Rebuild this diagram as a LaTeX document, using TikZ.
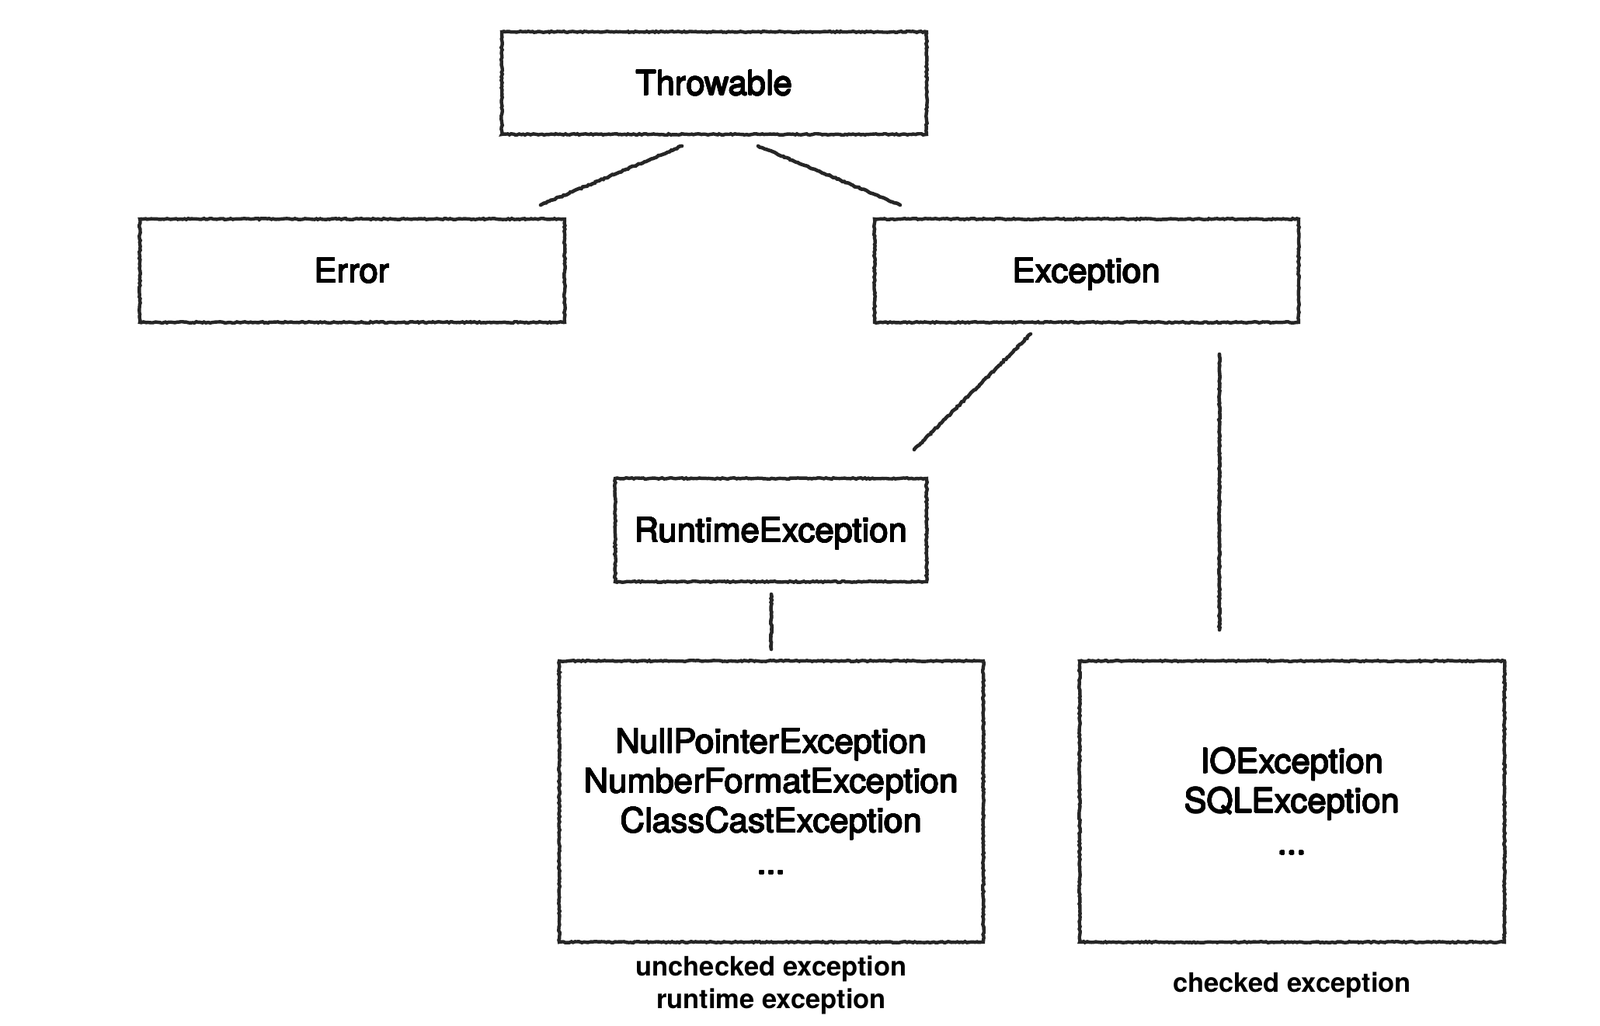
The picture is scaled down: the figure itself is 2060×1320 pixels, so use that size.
\documentclass[tikz,border=0pt]{standalone}
\usepackage{fontspec}
\setmainfont{TeX Gyre Heros}
\newfontfamily\lblfont{TeX Gyre Heros}[UprightFont=*-Bold]
\usepackage[copies]{contour}
\contourlength{0.55pt}
\contournumber{16}
\newcommand\mb[1]{\contour{black}{#1}}
\usetikzlibrary{decorations.pathmorphing}
\tikzset{
  rough/.style={decorate,decoration={random steps,segment length=2.5pt,amplitude=0.8pt}},
  cls/.style={draw=black!85,line width=4.4pt,rough,inner sep=0pt,align=center,
    font=\fontsize{43.5}{51}\selectfont},
  oneline/.style={text height=31pt,text depth=0pt},
  conn/.style={draw=black!85,line width=4.6pt,rough,line cap=round},
  lbl/.style={align=center,font=\lblfont\fontsize{34.5}{42}\selectfont}
}
\begin{document}
\begin{tikzpicture}[x=1pt,y=-1pt]
\useasboundingbox (0,0) rectangle (2060,1320);
\fill[white] (0,0) rectangle (2060,1320);
\node[cls,oneline,minimum width=547pt,minimum height=132pt] (thr) at (919.5,107) {\mb{Throwable}};
\node[cls,oneline,minimum width=547pt,minimum height=133pt] (err) at (453.5,348.5) {\mb{Error}};
\node[cls,oneline,minimum width=546pt,minimum height=133pt] (exc) at (1399,348.5) {\mb{Exception}};
\node[cls,oneline,minimum width=401pt,minimum height=133pt] (rt) at (992.5,682.5) {\mb{RuntimeException}};
\node[cls,minimum width=546pt,minimum height=362pt] (unc) at (993,1032)
  {\mb{NullPointerException}\\\mb{NumberFormatException}\\\mb{ClassCastException}\\[3pt]\mb{...}};
\node[cls,minimum width=547pt,minimum height=362pt] (chk) at (1663.5,1032)
  {\mb{IOException}\\\mb{SQLException}\\[3pt]\mb{...}};
\node[lbl] (uncl) at (993,1268) {unchecked exception\\runtime exception};
\node[lbl] (chkl) at (1663.5,1268) {checked exception};
\coordinate (c1a) at (878,188); \coordinate (c1b) at (696,264);
\coordinate (c2a) at (976,188); \coordinate (c2b) at (1159,264);
\coordinate (c3a) at (1327,430); \coordinate (c3b) at (1177,579);
\coordinate (c4a) at (1570,456); \coordinate (c4b) at (1570,811);
\coordinate (c5a) at (993,765); \coordinate (c5b) at (993,836);
\draw[conn] (c1a) -- (c1b);
\draw[conn] (c2a) -- (c2b);
\draw[conn] (c3a) -- (c3b);
\draw[conn] (c4a) -- (c4b);
\draw[conn] (c5a) -- (c5b);
\end{tikzpicture}
\end{document}
